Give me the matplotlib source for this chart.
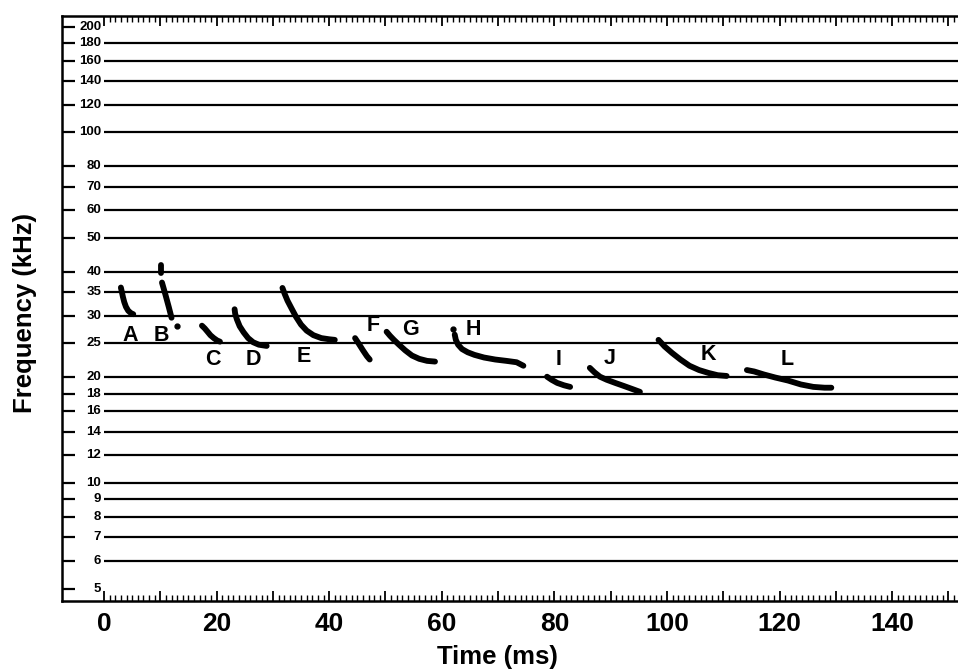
import numpy as np
import matplotlib
matplotlib.use('Agg')
import matplotlib.pyplot as plt
from matplotlib.ticker import NullLocator

plt.rcParams['font.family'] = ['Liberation Sans', 'DejaVu Sans']

# Frequency grid (kHz) and labels on the left
FREQ_LABELS = [5, 6, 7, 8, 9, 10, 12, 14, 16, 18, 20, 25, 30, 35, 40,
               50, 60, 70, 80, 100, 120, 140, 160, 180, 200]
GRID_LINES = [6, 7, 8, 9, 10, 12, 14, 16, 18, 20, 25, 30, 35, 40,
              50, 60, 70, 80, 100, 120, 140, 160, 180]
TIME_TICKS = [0, 10, 20, 30, 40, 50, 60, 70, 80, 90, 100, 110, 120, 130, 140, 150]
TIME_TICK_LABELS = ['0', '', '20', '', '40', '', '60', '', '80', '',
                    '100', '', '120', '', '140', '']

# Call traces: time (ms) and frequency (kHz)
A_time = [3.0, 3.15, 3.35, 3.6, 3.9, 4.3, 4.8, 5.2]
A_freq = [36.1, 35.2, 34.0, 32.8, 31.8, 31.0, 30.5, 30.3]
B_top_time = [10.1, 10.1]
B_top_freq = [41.8, 39.6]
B_time = [10.3, 10.9, 11.5, 12.0]
B_freq = [37.3, 34.5, 31.8, 29.6]
C_time = [17.4, 17.9, 18.4, 18.9, 19.5, 20.1, 20.6]
C_freq = [28.1, 27.6, 27.0, 26.4, 25.9, 25.5, 25.3]
D_time = [23.2, 23.3, 23.6, 24.1, 24.8, 25.6, 26.5, 27.5, 28.9]
D_freq = [31.3, 30.4, 29.3, 28.0, 26.9, 25.9, 25.2, 24.8, 24.6]
E_time = [31.7, 32.1, 32.6, 33.3, 34.1, 35.0, 36.0, 37.2, 38.6, 40.0, 41.0]
E_freq = [36.0, 34.6, 33.1, 31.5, 29.8, 28.3, 27.2, 26.4, 25.9, 25.7, 25.6]
F_time = [44.6, 45.3, 46.0, 46.7, 47.2]
F_freq = [25.9, 24.9, 23.9, 23.0, 22.5]
G_time = [50.2, 50.8, 51.5, 52.4, 53.5, 54.7, 56.0, 57.4, 58.8]
G_freq = [27.0, 26.3, 25.6, 24.8, 23.9, 23.1, 22.6, 22.3, 22.2]
H_time = [62.3, 62.5, 62.9, 63.6, 64.6, 65.8, 67.5, 69.5, 71.5, 73.3, 74.5]
H_freq = [26.5, 25.6, 24.8, 24.1, 23.6, 23.2, 22.8, 22.5, 22.3, 22.1, 21.6]
I_time = [78.7, 79.5, 80.5, 81.7, 82.8]
I_freq = [20.1, 19.7, 19.3, 19.0, 18.8]
J_time = [86.3, 87.1, 88.1, 89.3, 90.8, 92.4, 94.0, 95.2]
J_freq = [21.3, 20.7, 20.1, 19.7, 19.3, 18.9, 18.5, 18.2]
K_time = [98.5, 99.6, 100.9, 102.4, 104.0, 105.7, 107.4, 109.0, 110.6]
K_freq = [25.6, 24.5, 23.5, 22.5, 21.6, 21.0, 20.6, 20.3, 20.2]
L_time = [114.2, 115.5, 117.2, 119.2, 121.5, 123.8, 126.0, 128.0, 129.2]
L_freq = [21.0, 20.8, 20.4, 20.0, 19.6, 19.1, 18.8, 18.7, 18.7]

# isolated dots (after B, before H)
dot_time = [12.9, 62.0]
dot_freq = [28.0, 27.5]

call_names = ['A', 'B', 'C', 'D', 'E', 'F', 'G', 'H', 'I', 'J', 'K', 'L']
label_time = [4.6, 10.2, 19.4, 26.5, 35.4, 47.8, 54.4, 65.6, 80.7, 89.9, 107.3, 121.3]
label_freq = [26.3, 26.3, 22.5, 22.5, 23.0, 28.2, 27.4, 27.4, 22.5, 22.7, 23.2, 22.5]

traces = [(A_time, A_freq), (B_top_time, B_top_freq), (B_time, B_freq),
          (C_time, C_freq), (D_time, D_freq), (E_time, E_freq),
          (F_time, F_freq), (G_time, G_freq), (H_time, H_freq),
          (I_time, I_freq), (J_time, J_freq), (K_time, K_freq),
          (L_time, L_freq)]

fig = plt.figure(figsize=(9.58, 6.70), dpi=100)
ax = fig.add_axes([62 / 958, 1 - 601 / 670, 896 / 958, 585 / 670])

ax.set_yscale('log')
ax.set_xlim(-7.46, 151.7)
ax.set_ylim(4.61, 214.6)

# horizontal frequency lines start at t = 0
ax.hlines(GRID_LINES, 0, 160, colors='black', linewidth=1.6)

for t, f in traces:
    ax.plot(t, f, color='black', linewidth=4.2,
            solid_capstyle='round', solid_joinstyle='round')
ax.plot(dot_time, dot_freq, 'o', color='black', markersize=3.5)

for name, t, f in zip(call_names, label_time, label_freq):
    ax.text(t, f, name, fontsize=15.5, fontweight='bold',
            ha='center', va='center')

# y labels sit inside the frame, left of the lines
ax.set_yticks(FREQ_LABELS)
ax.set_yticklabels([])
ax.yaxis.set_minor_locator(NullLocator())
for f in FREQ_LABELS:
    ax.text(-0.5, f, str(f), fontsize=9.5, fontweight='bold',
            ha='right', va='center')
ax.tick_params(axis='y', which='major', direction='in', length=9.5,
               width=1.6, left=True, right=False)

ax.set_xticks(TIME_TICKS)
ax.set_xticklabels(TIME_TICK_LABELS, fontweight='bold')
ax.set_xticks(np.arange(0, 152, 1), minor=True)
ax.tick_params(axis='x', which='major', direction='in', length=7,
               width=1.3, top=True, labelsize=19, pad=8)
ax.tick_params(axis='x', which='minor', direction='in', length=4,
               width=1.0, top=True)

for side in ['left', 'bottom', 'top']:
    ax.spines[side].set_linewidth(1.8)
ax.spines['right'].set_visible(False)

fig.text(497 / 958, 1 - 657 / 670, 'Time (ms)', fontsize=18.5,
         fontweight='bold', ha='center', va='center')
fig.text(25 / 958, 1 - 313 / 670, 'Frequency (kHz)', fontsize=18.5,
         fontweight='bold', rotation=90, ha='center', va='center')

fig.savefig('out.png', dpi=100)
